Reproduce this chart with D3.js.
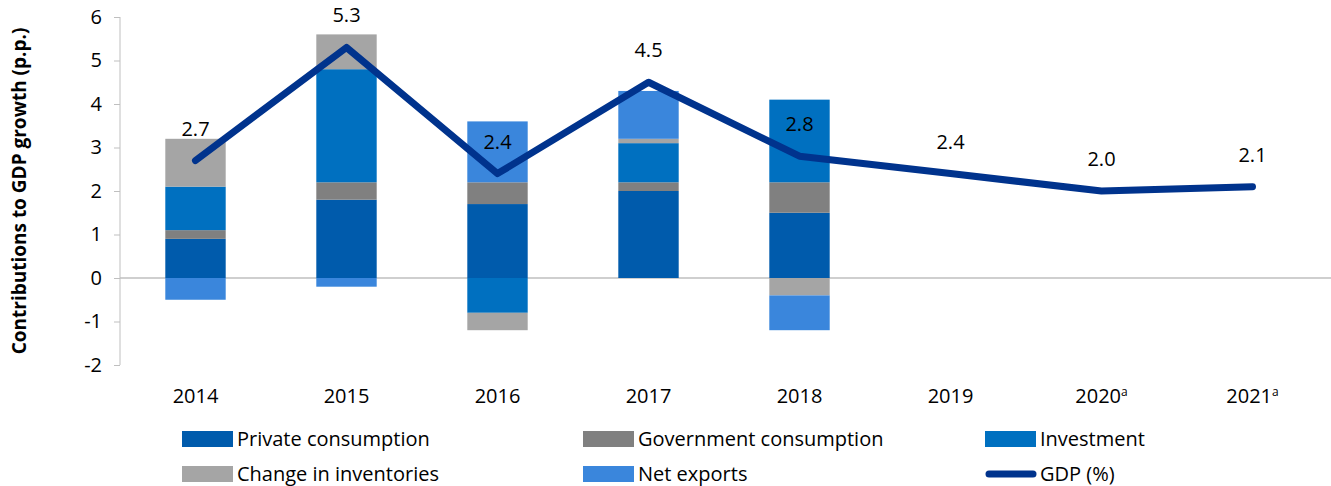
<!DOCTYPE html>
<html>
<head>
<meta charset="utf-8">
<script src="https://cdn.jsdelivr.net/npm/d3@7"></script>
<style>
  body { margin: 0; background: #fff; }
  text { font-family: "Open Sans", sans-serif; }
</style>
</head>
<body>
<div id="chart-area"></div>
<script>
// data
var years = ["2014", "2015", "2016", "2017", "2018", "2019", "2020", "2021"];
var yearSup = ["", "", "", "", "", "", "a", "a"];
var privateCons = [0.9, 1.8, 1.7, 2.0, 1.5, 0, 0, 0];
var govCons = [0.2, 0.4, 0.5, 0.2, 0.7, 0, 0, 0];
var investment = [1.0, 2.6, -0.8, 0.9, 1.9, 0, 0, 0];
var inventories = [1.1, 0.8, -0.4, 0.1, -0.4, 0, 0, 0];
var netExports = [-0.5, -0.2, 1.4, 1.1, -0.8, 0, 0, 0];
var gdp = [2.7, 5.3, 2.4, 4.5, 2.8, 2.4, 2.0, 2.1];
var yTicks = [-2, -1, 0, 1, 2, 3, 4, 5, 6];

var seriesNames = ["Private consumption", "Government consumption", "Investment", "Change in inventories", "Net exports"];
var seriesValues = [privateCons, govCons, investment, inventories, netExports];
var seriesColors = ["#005BAC", "#808080", "#0070C0", "#A5A5A5", "#3A86DC"];

var W = 1331, H = 486;
var margin = { left: 120, right: 3, top: 17, bottom: 121 };
var width = W - margin.left - margin.right,
    height = H - margin.top - margin.bottom;

var svg = d3.select("#chart-area")
    .append("svg")
        .attr("width", W)
        .attr("height", H);

var g = svg.append("g")
    .attr("transform", "translate(" + margin.left + "," + margin.top + ")");

var x = d3.scaleBand()
    .domain(years)
    .range([0, width])
    .paddingInner(0.6)
    .paddingOuter(0.3);

var y = d3.scaleLinear()
    .domain([-2, 6])
    .range([height, 0]);

// build table for stacking
var table = years.map(function(yr, i) {
    var row = { year: yr };
    seriesNames.forEach(function(s, j) { row[s] = seriesValues[j][i]; });
    return row;
});

var stack = d3.stack()
    .keys(seriesNames)
    .offset(d3.stackOffsetDiverging);
var layers = stack(table);

// Y axis
var yAxis = g.append("g")
    .call(d3.axisLeft(y).tickValues(yTicks).tickSize(6).tickPadding(12).tickFormat(function(d) { return String(d); }));
yAxis.select(".domain").attr("stroke", "#BFBFBF").attr("d", "M0," + y(6) + "V" + y(-2));
yAxis.selectAll(".tick line").attr("stroke", "#BFBFBF");
yAxis.selectAll(".tick text")
    .attr("font-size", "20px")
    .attr("fill", "#000")
    .attr("font-family", "Open Sans");

// zero line
g.append("line")
    .attr("x1", 0).attr("x2", width + margin.right)
    .attr("y1", y(0)).attr("y2", y(0))
    .attr("stroke", "#BFBFBF")
    .attr("stroke-width", 1.5);

// bars
g.selectAll(".layer")
    .data(layers)
    .enter().append("g")
        .attr("class", "layer")
        .attr("fill", function(d, i) { return seriesColors[i]; })
    .selectAll("rect")
    .data(function(d) { return d; })
    .enter().append("rect")
        .attr("x", function(d) { return x(d.data.year); })
        .attr("width", x.bandwidth())
        .attr("y", function(d) { return y(Math.max(d[0], d[1])); })
        .attr("height", function(d) { return Math.abs(y(d[0]) - y(d[1])); });

// GDP line
var cx = function(i) { return x(years[i]) + x.bandwidth() / 2; };
var line = d3.line()
    .x(function(d, i) { return cx(i); })
    .y(function(d) { return y(d); });

g.append("path")
    .datum(gdp)
    .attr("d", line)
    .attr("fill", "none")
    .attr("stroke", "#00338D")
    .attr("stroke-width", 7)
    .attr("stroke-linejoin", "round")
    .attr("stroke-linecap", "round");

g.selectAll(".gdp-label")
    .data(gdp)
    .enter().append("text")
        .attr("class", "gdp-label")
        .attr("x", function(d, i) { return cx(i); })
        .attr("y", function(d) { return y(d) - 25; })
        .attr("text-anchor", "middle")
        .attr("font-size", "20px")
        .attr("fill", "#000")
        .text(function(d) { return d3.format(".1f")(d); });

// X labels
var xl = g.selectAll(".x-label")
    .data(years)
    .enter().append("text")
        .attr("class", "x-label")
        .attr("x", function(d) { return x(d) + x.bandwidth() / 2; })
        .attr("y", height + 38)
        .attr("text-anchor", "middle")
        .attr("font-size", "20px")
        .attr("fill", "#000");
xl.append("tspan").text(function(d) { return d; });
xl.append("tspan")
    .attr("font-size", "12px")
    .attr("dy", "-7")
    .text(function(d, i) { return yearSup[i]; });

// Y title
svg.append("text")
    .attr("transform", "translate(26," + (margin.top + height / 2) + ") rotate(-90)")
    .attr("text-anchor", "middle")
    .attr("font-size", "19px")
    .attr("font-weight", "bold")
    .attr("fill", "#000")
    .text("Contributions to GDP growth (p.p.)");

// legend
var legendItems = seriesNames.concat(["GDP (%)"]);
var legendX = [182, 583, 985];
var legendY = [439, 474];
var lg = svg.selectAll(".legend")
    .data(legendItems)
    .enter().append("g")
        .attr("class", "legend")
        .attr("transform", function(d, i) {
            return "translate(" + legendX[i % 3] + "," + legendY[Math.floor(i / 3)] + ")";
        });

lg.each(function(d, i) {
    var el = d3.select(this);
    if (i < 5) {
        el.append("rect")
            .attr("x", 0).attr("y", -8)
            .attr("width", 51).attr("height", 16)
            .attr("fill", seriesColors[i]);
    } else {
        el.append("line")
            .attr("x1", 4).attr("x2", 48)
            .attr("y1", 0).attr("y2", 0)
            .attr("stroke", "#00338D")
            .attr("stroke-width", 7)
            .attr("stroke-linecap", "round");
    }
    el.append("text")
        .attr("x", 55)
        .attr("y", 0)
        .attr("dy", "0.35em")
        .attr("font-size", "20px")
        .attr("fill", "#000")
        .text(d);
});
</script>
</body>
</html>
